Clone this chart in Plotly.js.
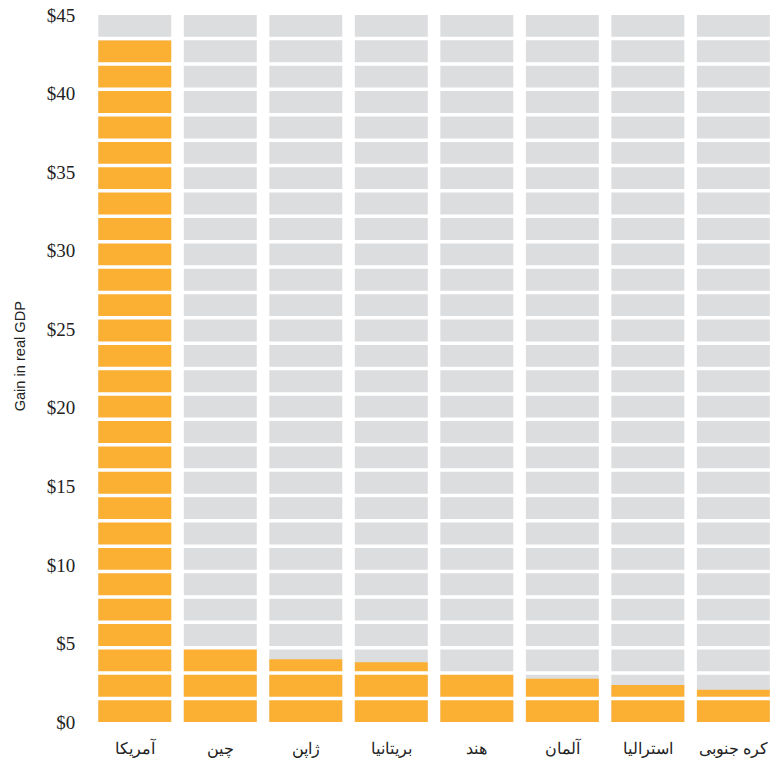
<!DOCTYPE html>
<html>
<head>
<meta charset="utf-8">
<script src="https://cdn.plot.ly/plotly-3.0.1.min.js"></script>
<style>html,body{margin:0;padding:0;background:#fff}#chart{width:771px;height:762px}</style>
</head>
<body>
<div id="chart"></div>
<script>
const countries = ['آمریکا', 'چین', 'ژاپن', 'بریتانیا', 'هند', 'آلمان', 'استرالیا', 'کره جنوبی'];
const gains = [43.4, 4.75, 4.0, 3.8, 3.1, 2.75, 2.35, 2.05];
const scaleMax = [45, 45, 45, 45, 45, 45, 45, 45];
const tickValues = [0, 5, 10, 15, 20, 25, 30, 35, 40, 45];
const tickLabels = ['$0', '$5', '$10', '$15', '$20', '$25', '$30', '$35', '$40', '$45'];
const yTitle = 'Gain in real GDP';

const segmentCount = 28;
const plotHeightPx = 707;
const gapPx = 3.5;
const yMax = 45;
const gapUnits = gapPx * yMax / plotHeightPx;
const period = (yMax + gapUnits) / segmentCount;
const shapes = [];
for (let k = 1; k < segmentCount; k++) {
  const yc = k * period - gapUnits / 2;
  shapes.push({type: 'line', xref: 'paper', yref: 'y', x0: 0, x1: 1, y0: yc, y1: yc,
    line: {color: '#ffffff', width: gapPx}, layer: 'above'});
}

const data = [
  {type: 'bar', x: countries, y: scaleMax, marker: {color: '#dcdddf', line: {width: 0}}, hoverinfo: 'skip'},
  {type: 'bar', x: countries, y: gains, marker: {color: '#fbb034', line: {width: 0}}}
];

const layout = {
  width: 771, height: 762,
  margin: {l: 91.7, r: 0, t: 15, b: 40},
  paper_bgcolor: '#ffffff', plot_bgcolor: '#ffffff',
  barmode: 'overlay', bargap: 0.147,
  showlegend: false,
  shapes: shapes,
  annotations: [{
    text: yTitle, xref: 'paper', yref: 'paper', x: -0.1055, y: 0.5177,
    xanchor: 'center', yanchor: 'middle', textangle: -90, showarrow: false,
    font: {family: 'Liberation Sans, Arial, sans-serif', size: 14.6, color: '#222'}
  }],
  xaxis: {
    type: 'category', range: [-0.5, 7.44], showgrid: false, zeroline: false, showline: false,
    ticks: 'outside', ticklen: 12, tickcolor: 'rgba(0,0,0,0)',
    tickfont: {family: 'Liberation Serif, DejaVu Serif, serif', size: 16, color: '#222'}
  },
  yaxis: {
    range: [0, 45], showgrid: false, zeroline: false, showline: false,
    tickvals: tickValues, ticktext: tickLabels,
    ticks: 'outside', ticklen: 12, tickcolor: 'rgba(0,0,0,0)',
    tickfont: {family: 'Liberation Serif, serif', size: 19, color: '#222'}
  }
};

Plotly.newPlot('chart', data, layout, {displayModeBar: false, staticPlot: true});
</script>
</body>
</html>
